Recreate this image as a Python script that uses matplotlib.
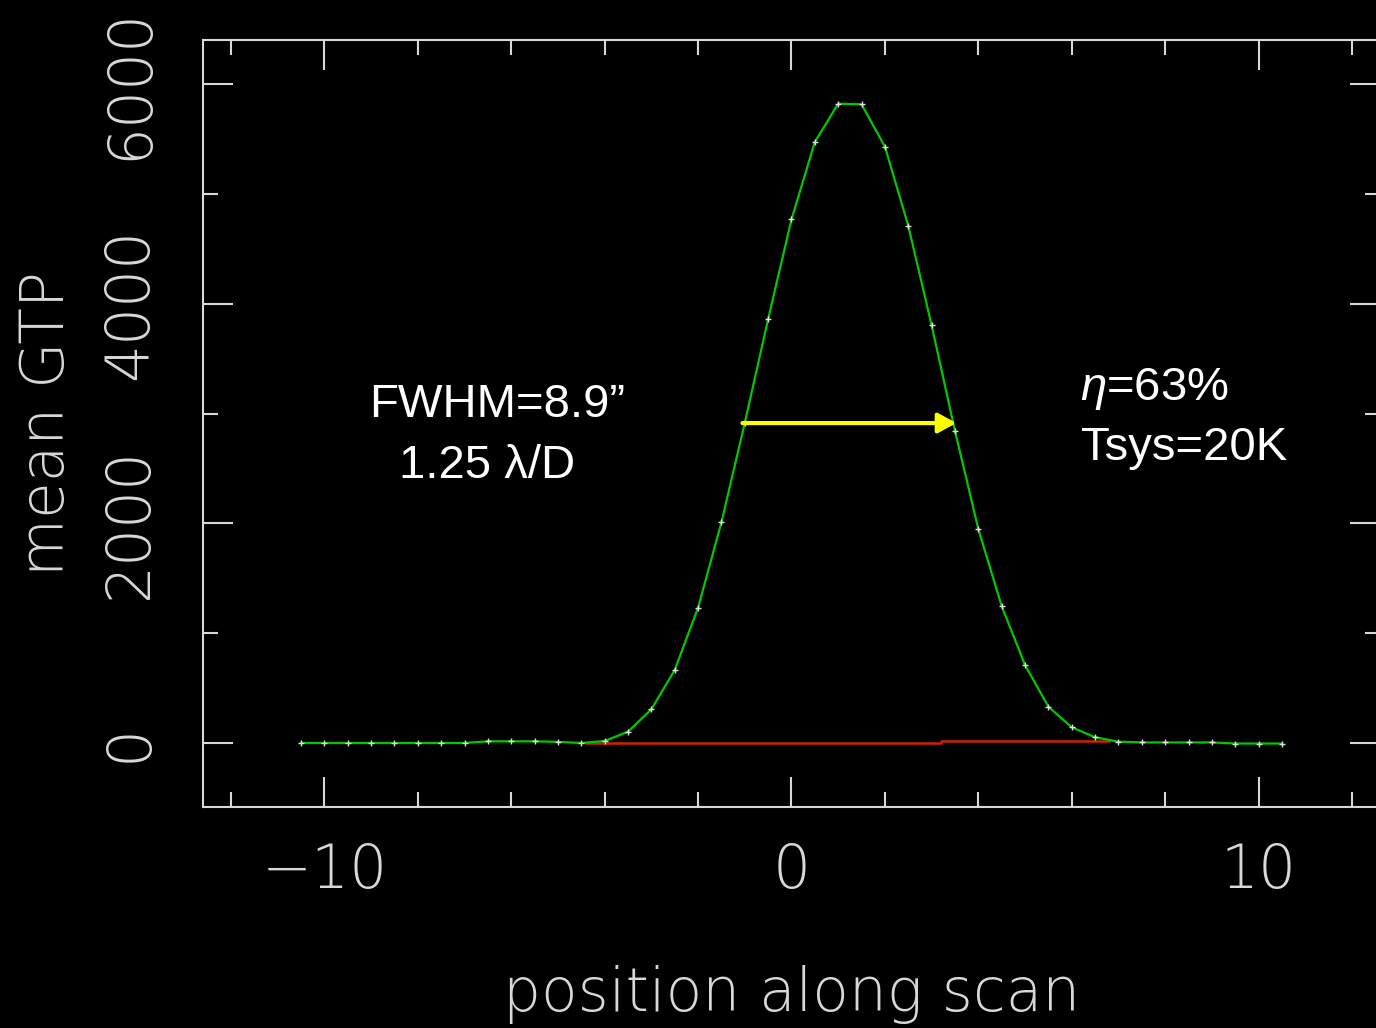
import numpy as np
import matplotlib
matplotlib.use('Agg')
import matplotlib.pyplot as plt
from matplotlib.ticker import MultipleLocator

# scan positions and mean GTP
pos = [-10.5, -10.0, -9.5, -9.0, -8.5, -8.0, -7.5, -7.0, -6.5, -6.0, -5.5,
       -5.0, -4.5, -4.0, -3.5, -3.0, -2.5, -2.0, -1.5, -1.0, -0.5, 0.0,
       0.5, 1.0, 1.5, 2.0, 2.5, 3.0, 3.5, 4.0, 4.5, 5.0, 5.5, 6.0, 6.5,
       7.0, 7.5, 8.0, 8.5, 9.0, 9.5, 10.0, 10.5]
gtp = [0, 0, 0, 0, 0, 0, 0, 0, 15, 15, 15,
       10, 0, 18, 103, 307, 665, 1232, 2009, 2916, 3860, 4768,
       5472, 5821, 5815, 5430, 4710, 3803, 2841, 1948, 1247, 710, 330, 143, 52,
       12, 5, 5, 5, 5, -5, -5, -5]

# baseline fit
base_x = [-4.4, 3.2, 3.2, 6.8]
base_y = [-3, -3, 15, 15]

# FWHM arrow
fwhm_x = [-1.05, 3.53]
fwhm_y = 2913

axis_col = '#d8d8d8'
plt.rcParams['mathtext.fontset'] = 'custom'
plt.rcParams['mathtext.it'] = 'Liberation Sans:italic'
plt.rcParams['mathtext.rm'] = 'Liberation Sans'
thin = dict(family='DejaVu Sans', weight=200, color=axis_col, size=43)

fig = plt.figure(figsize=(13.76, 10.28), dpi=100, facecolor='black')
ax = fig.add_axes([203/1376, 1 - 807/1028, 1177/1376, 767/1028])
ax.set_facecolor('black')

ax.plot(base_x, base_y, color='#d02000', lw=1.8, zorder=2)
ax.plot(pos, gtp, color='#00c800', lw=1.6, zorder=3)
ax.plot(pos, gtp, ls='none', marker='+', ms=5, mew=1, color='#e0e0e0', zorder=4)

ax.annotate('', xy=(fwhm_x[1], fwhm_y), xytext=(fwhm_x[0], fwhm_y),
            arrowprops=dict(arrowstyle='-|>,head_length=0.55,head_width=0.3',
                            color='#ffff00', lw=3, mutation_scale=20,
                            shrinkA=0, shrinkB=0), zorder=5)

ax.set_xlim(-12.6, 12.6)
ax.set_ylim(-583, 6401)

ax.xaxis.set_major_locator(MultipleLocator(10))
ax.xaxis.set_minor_locator(MultipleLocator(2))
ax.yaxis.set_major_locator(MultipleLocator(2000))
ax.yaxis.set_minor_locator(MultipleLocator(1000))

for s in ax.spines.values():
    s.set_color(axis_col)
    s.set_linewidth(1.5)

ax.tick_params(which='both', direction='in', top=True, right=True,
               color=axis_col, width=1.5)
ax.tick_params(which='major', length=21.6)
ax.tick_params(which='minor', length=10.8)
ax.tick_params(axis='x', pad=25)
ax.tick_params(axis='y', pad=31)

ax.set_xticks([-10, 0, 10])
ax.set_xticklabels(['\u221210', '0', '10'], fontdict=thin)
ax.set_yticks([0, 2000, 4000, 6000])
ax.set_yticklabels(['0', '2000', '4000', '6000'], fontdict=thin,
                   rotation=90, va='center', ha='right')

ax.set_xlabel('position along scan', fontdict=thin)
ax.xaxis.set_label_coords(0.5, -0.245)
ax.xaxis.label.set_va('center')
ax.set_ylabel('mean GTP', fontdict=thin)
ax.yaxis.set_label_coords(-0.1317, 0.5)
ax.yaxis.label.set_va('center')

ann = dict(family='Liberation Sans', color='white', size=34, ha='left', va='baseline')
ax.text(-9.05, 2968, 'FWHM=8.9\u201d', **ann)
ax.text(-8.41, 2413, '1.25 \u03bb/D', **ann)
ax.text(6.18, 3123, r'$\eta$=63%', **ann)
ax.text(6.2, 2577, 'Tsys=20K', **ann)

fig.savefig('out.png', dpi=100, facecolor='black')
